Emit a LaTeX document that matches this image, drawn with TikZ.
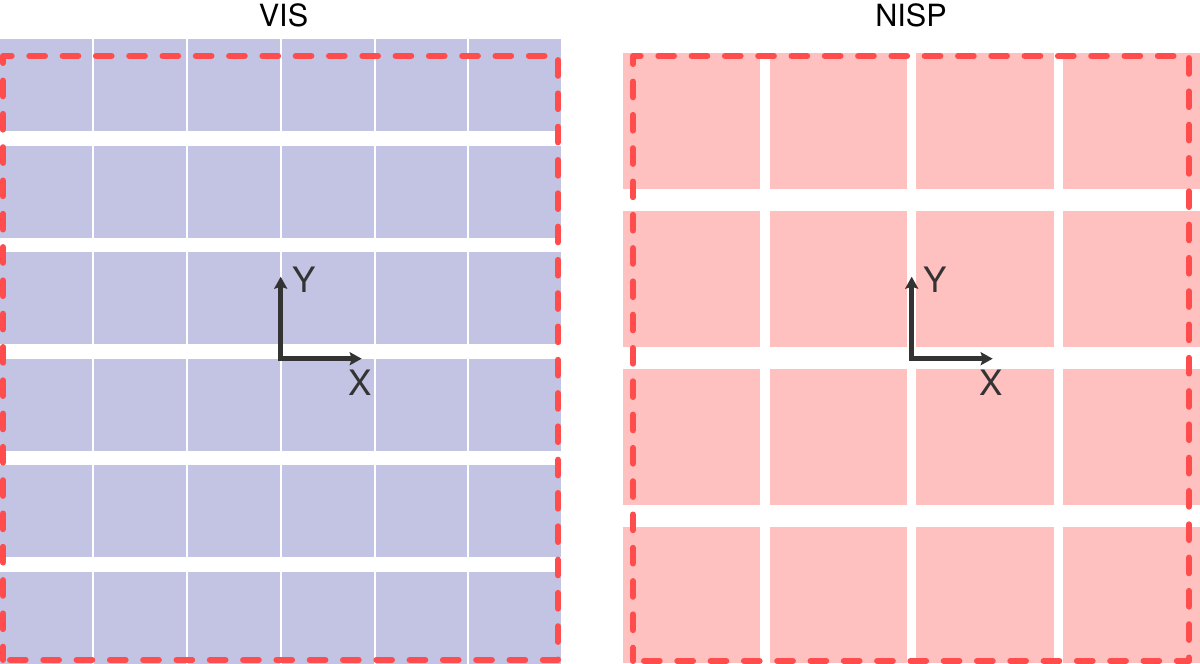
\documentclass[tikz,border=0pt]{standalone}
\usepackage{fontspec}
\setmainfont{TeX Gyre Heros}
\usetikzlibrary{arrows.meta}
\definecolor{visfill}{RGB}{195,195,227}
\definecolor{nispfill}{RGB}{255,192,192}
\definecolor{fovred}{RGB}{255,77,77}
\definecolor{axisgray}{RGB}{51,51,51}
\begin{document}
\begin{tikzpicture}[x=1pt,y=-1pt,
  fov/.style={draw=fovred,line width=6pt,line cap=round,line join=round,dash pattern=on 15.7pt off 17.6pt,dash phase=2.4pt},
  axisline/.style={draw=axisgray,line width=5pt,line join=miter,{Stealth[length=12pt,width=13pt,inset=2pt]}-{Stealth[length=12pt,width=13pt,inset=2pt]}},
  title/.style={inner sep=0pt,font=\fontsize{30.6}{34}\selectfont},
  axlabel/.style={inner sep=0pt,text=axisgray,font=\fontsize{35}{40}\selectfont}]
\useasboundingbox (0,0) rectangle (1200,664);
% VIS detector rows
\foreach \i in {0,...,5}
  \fill[visfill] (0,{39.3+106.5*\i}) rectangle (561,{39.3+106.5*\i+92});
\foreach \x in {92.8,186.7,280.6,374.5,468.4}
  \draw[white,line width=2pt] (\x,39) -- (\x,664);
% NISP detectors
\foreach \i in {0,...,3}
  \foreach \j in {0,...,3}
    \fill[nispfill] ({623+146.7*\j},{53+158*\i}) rectangle +(137.3,136);
% FOV outlines
\coordinate (v1) at (3,660); \coordinate (v2) at (3,56);
\coordinate (v3) at (558,56); \coordinate (v4) at (558,660);
\draw[fov] (v1) -- (v2) -- (v3) -- (v4) -- cycle;
\coordinate (n1) at (633,661); \coordinate (n2) at (633,56);
\coordinate (n3) at (1189,56); \coordinate (n4) at (1189,661);
\draw[fov] (n1) -- (n2) -- (n3) -- (n4) -- cycle;
% titles
\node[title] (vistitle) at (283.5,15) {VIS};
\node[title] (nisptitle) at (911,15) {NISP};
% VIS axes
\coordinate (vo) at (280.7,358.7);
\coordinate (vy) at (280.7,276.7);
\coordinate (vx) at (361.7,358.7);
\draw[axisline] (vy) -- (vo) -- (vx);
\node[axlabel] (vyl) at (304,279.5) {Y};
\node[axlabel] (vxl) at (360,382.5) {X};
% NISP axes
\coordinate (no) at (911.7,358.7);
\coordinate (ny) at (911.7,276.7);
\coordinate (nx) at (992.7,358.7);
\draw[axisline] (ny) -- (no) -- (nx);
\node[axlabel] (nyl) at (935,279.5) {Y};
\node[axlabel] (nxl) at (991,382.5) {X};
\end{tikzpicture}
\end{document}
